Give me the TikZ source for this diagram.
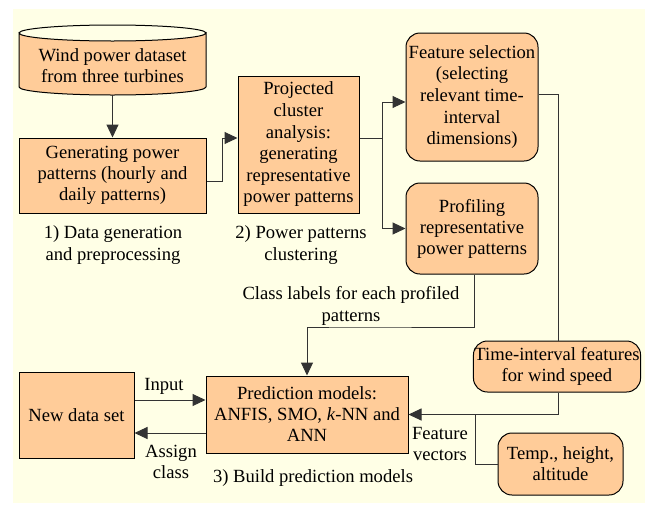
\documentclass[tikz,border=0pt]{standalone}
\usepackage{fontspec}
\setmainfont{Liberation Serif}
\usetikzlibrary{arrows.meta}
\definecolor{bgyel}{HTML}{FFFFE6}
\definecolor{peach}{HTML}{FFCC99}
\definecolor{ln}{HTML}{333333}
\tikzset{
  box/.style={draw=black, fill=peach, line width=1pt, align=center, inner sep=1pt,
    font=\fontsize{18.6}{21}\selectfont},
  rbox/.style={box, rounded corners=14pt},
  lbl/.style={align=center, inner sep=0pt, font=\fontsize{18.6}{21.5}\selectfont},
  conn/.style={draw=ln, line width=1pt},
  arr/.style={conn, -{Triangle[length=13pt,width=12pt]}},
}
\begin{document}
\begin{tikzpicture}[x=1pt,y=-1pt]
\useasboundingbox (0,0) rectangle (647,504);
\fill[white] (0,0) rectangle (647,504);
\fill[bgyel] (13,9) rectangle (645,503);
% cylinder
\filldraw[fill=peach, draw=black, line width=1pt]
  (19,33) -- (19,87) arc[start angle=180, end angle=360, x radius=93.5pt, y radius=8pt]
  -- (206,33) arc[start angle=0, end angle=-180, x radius=93.5pt, y radius=8pt] -- cycle;
\draw[line width=1pt] (19,33) arc[start angle=180, end angle=0, x radius=93.5pt, y radius=8pt];
\node[lbl, minimum width=187pt, minimum height=58pt, font=\fontsize{18.6}{21}\selectfont] (db) at (112.5,66) {Wind power dataset\\from three turbines};
\node[box, minimum width=187pt, minimum height=75pt] (gen) at (112.5,175.5) {Generating power\\patterns (hourly and\\daily patterns)};
\node[box, minimum width=121pt, minimum height=137pt, font=\fontsize{18.6}{21.6}\selectfont] (proj) at (298.5,144.5) {Projected\\cluster\\analysis:\\generating\\representative\\power patterns};
\node[rbox, minimum width=132pt, minimum height=128pt, font=\fontsize{18.6}{21.6}\selectfont] (fs) at (472,97) {Feature selection\\(selecting\\relevant time-\\interval\\dimensions)};
\node[rbox, minimum width=132pt, minimum height=91pt] (prof) at (472,228.5) {Profiling\\representative\\power patterns};
\node[rbox, minimum width=162pt, minimum height=51pt] (ti) at (557,366.5) {Time-interval features\\for wind speed};
\node[rbox, minimum width=125pt, minimum height=62pt] (temp) at (560.5,464) {Temp., height,\\altitude};
\node[box, minimum width=202pt, minimum height=77pt] (pred) at (307,414.5) {Prediction models:\\ANFIS, SMO, \textit{k}-NN and\\ANN};
\node[box, minimum width=115pt, minimum height=86pt] (nds) at (76.5,415) {New data set};
% labels
\node[lbl] (l1) at (113,245) {1) Data generation\\and preprocessing};
\node[lbl] (l2) at (301,245) {2) Power patterns\\clustering};
\node[lbl] (l3) at (313,478) {3) Build prediction models};
\node[lbl] (l4) at (351,306) {Class labels for each profiled\\patterns};
\node[lbl] (lin) at (164,386) {Input};
\node[lbl] (las) at (171,462) {Assign\\class};
\node[lbl] (lfv) at (440,444) {Feature\\vectors};
% connectors
\draw[arr] (db.south) -- (gen.north);
\draw[arr] (gen.east |- 0,181) -- (222,181) |- (proj.west |- 0,138);
\coordinate (br) at (382,138);
\draw[conn] (proj.east |- 0,138) -- (br);
\draw[arr] (br) |- (fs.west |- 0,102);
\draw[arr] (br) |- (prof.west);
\draw[conn] (fs.east |- 0,94) -| (ti.north -| 558,0);
\draw[arr] (prof.south -| 474,0) |- (350,327) -| (pred.north);
\draw[arr] (ti.south -| 558,0) |- (pred.east);
\coordinate (j) at (475,414.5);
\draw[conn] (temp.west) -| (j);
\draw[arr] (nds.east |- 0,400) -- (pred.west |- 0,400);
\draw[arr] (pred.west |- 0,433) -- (nds.east |- 0,433);
\end{tikzpicture}
\end{document}
